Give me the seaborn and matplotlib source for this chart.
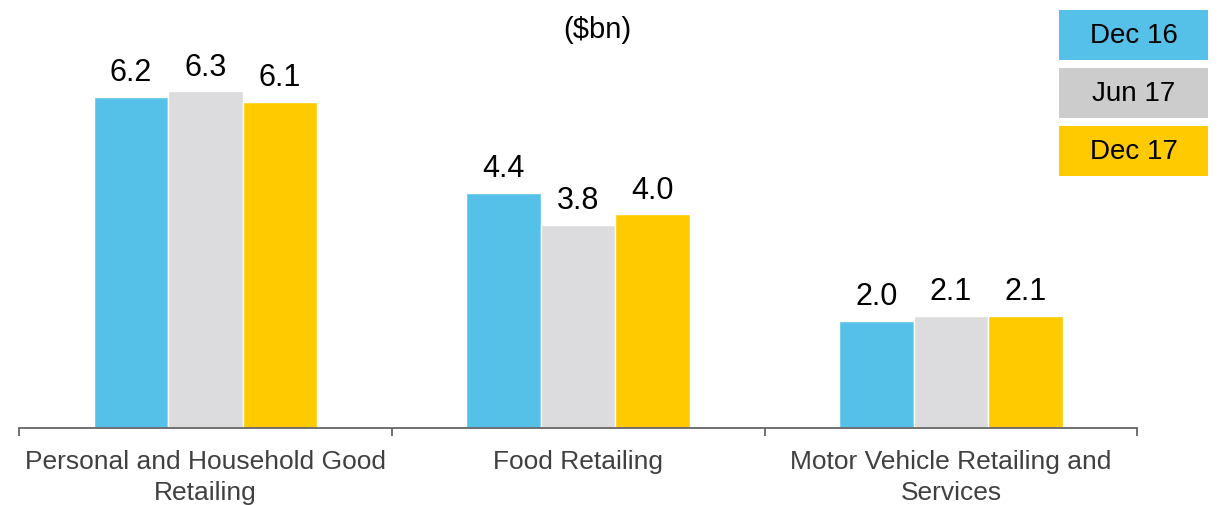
import pandas as pd
import seaborn as sns
import matplotlib.pyplot as plt
from matplotlib.patches import Rectangle

# chart data
categories = ['Personal and Household Good\nRetailing', 'Food Retailing',
              'Motor Vehicle Retailing and\nServices']
periods = ['Dec 16', 'Jun 17', 'Dec 17']
dec16 = [6.2, 4.4, 2.0]
jun17 = [6.3, 3.8, 2.1]
dec17 = [6.1, 4.0, 2.1]

bar_colors = ['#55C1E8', '#DCDCDE', '#FFCA00']
legend_colors = ['#55C1E8', '#CCCCCC', '#FFCA00']

df = pd.DataFrame({
    'Sector': categories * 3,
    'Period': [p for p in periods for _ in categories],
    'Value': dec16 + jun17 + dec17,
})

sns.set_style('white')
plt.rcParams['font.family'] = ['Liberation Sans', 'DejaVu Sans']

fig = plt.figure(figsize=(12.25, 5.06), dpi=100)
ax = fig.add_axes([0.0155, 0.152, 0.913, 0.845])

sns.barplot(data=df, x='Sector', y='Value', hue='Period', hue_order=periods,
            palette=bar_colors, width=0.6, saturation=1, ax=ax, legend=False)

for cont in ax.containers:
    ax.bar_label(cont, fmt='%.1f', padding=7, fontsize=22, color='black')

ax.set_ylim(0, 8)
ax.set_xlim(-0.5, 2.5)
ax.set_xlabel('')
ax.set_ylabel('')
ax.set_yticks([])
for side in ['left', 'right', 'top']:
    ax.spines[side].set_visible(False)
ax.spines['bottom'].set_color('#666666')
ax.spines['bottom'].set_linewidth(1.3)

# ticks between the categories
ax.set_xticks([-0.5, 0.5, 1.5, 2.5], minor=True)
ax.tick_params(axis='x', which='minor', bottom=True, length=6, width=1.3,
               color='#666666', direction='out')
ax.tick_params(axis='x', which='major', length=0, labelsize=19, labelcolor='#404040', pad=15)
for lbl in ax.get_xticklabels():
    lbl.set_linespacing(1.35)

fig.text(0.488, 0.94, '($bn)', ha='center', va='center', fontsize=21, color='black')

# legend as coloured boxes
for i, (lab, col) in enumerate(zip(periods, legend_colors)):
    top = 11 + i * 58
    x0, y0 = 1059 / 1225, 1 - (top + 50) / 506
    fig.add_artist(Rectangle((x0, y0), 149 / 1225, 50 / 506, transform=fig.transFigure,
                             facecolor=col, edgecolor='none'))
    fig.text(x0 + 74.5 / 1225, y0 + 25 / 506, lab, ha='center', va='center',
             fontsize=20, color='black')

plt.savefig('out.png', dpi=100)
